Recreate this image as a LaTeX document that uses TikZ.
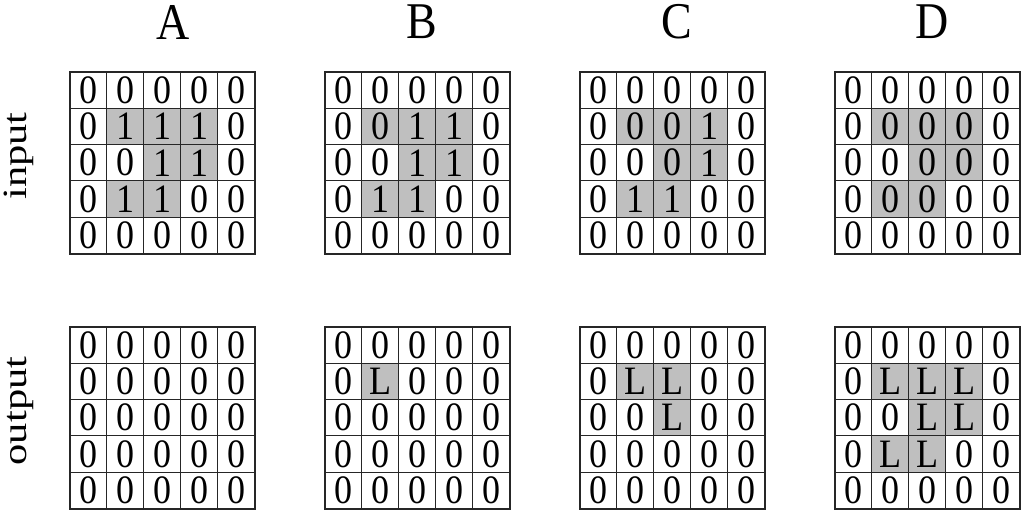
\documentclass[tikz,border=0pt]{standalone}
\usepackage{fontspec}
\setmainfont{Liberation Serif}
\newcommand\cw{36.9}
\newcommand\ch{36.3}
\newcommand\tx[1]{\scalebox{1.0}[1.12]{#1}}
\tikzset{
  cell/.style={draw=black!85, line width=1.1pt, minimum width=\cw pt, minimum height=\ch pt,
    inner sep=0pt, font=\fontsize{36}{36}\selectfont},
  gcell/.style={cell, fill=black!25},
  outer/.style={draw=black!85, line width=1.4pt},
  title/.style={font=\fontsize{46}{46}\selectfont, inner sep=0pt},
  side/.style={font=\fontsize{34}{34}\selectfont, inner sep=0pt, rotate=90, anchor=base}
}
\newcommand\mygrid[4]{%
  \foreach \v/\st [count=\i from 0] in {#4}{%
    \pgfmathtruncatemacro\rr{\i/5}%
    \pgfmathtruncatemacro\cc{mod(\i,5)}%
    \node[\st] (#1-\rr-\cc) at ({#2+(\cc+0.5)*\cw},{#3+(\rr+0.5)*\ch}) {\raisebox{-1.2pt}{\tx{\v}}};
  }
  \draw[outer] (#1-0-0.north west) rectangle (#1-4-4.south east);
}
\begin{document}
\begin{tikzpicture}[x=1pt,y=-1pt]
\fill[white] (0,0) rectangle (1021,514);
\useasboundingbox (0,0) rectangle (1021,514);
\node[title] (tA) at (173,22) {\tx{A}};
\node[title] (tB) at (422,22) {\tx{B}};
\node[title] (tC) at (677,22) {\tx{C}};
\node[title] (tD) at (932,22) {\tx{D}};
\node[side] (lin) at (26,156) {\scalebox{1.25}[1]{input}};
\node[side] (lout) at (26,411) {\scalebox{1.25}[1]{output}};
% inputs
\mygrid{iA}{70}{72}{0/cell,0/cell,0/cell,0/cell,0/cell,
 0/cell,1/gcell,1/gcell,1/gcell,0/cell,
 0/cell,0/cell,1/gcell,1/gcell,0/cell,
 0/cell,1/gcell,1/gcell,0/cell,0/cell,
 0/cell,0/cell,0/cell,0/cell,0/cell}
\mygrid{iB}{325}{72}{0/cell,0/cell,0/cell,0/cell,0/cell,
 0/cell,0/gcell,1/gcell,1/gcell,0/cell,
 0/cell,0/cell,1/gcell,1/gcell,0/cell,
 0/cell,1/gcell,1/gcell,0/cell,0/cell,
 0/cell,0/cell,0/cell,0/cell,0/cell}
\mygrid{iC}{580}{72}{0/cell,0/cell,0/cell,0/cell,0/cell,
 0/cell,0/gcell,0/gcell,1/gcell,0/cell,
 0/cell,0/cell,0/gcell,1/gcell,0/cell,
 0/cell,1/gcell,1/gcell,0/cell,0/cell,
 0/cell,0/cell,0/cell,0/cell,0/cell}
\mygrid{iD}{835}{72}{0/cell,0/cell,0/cell,0/cell,0/cell,
 0/cell,0/gcell,0/gcell,0/gcell,0/cell,
 0/cell,0/cell,0/gcell,0/gcell,0/cell,
 0/cell,0/gcell,0/gcell,0/cell,0/cell,
 0/cell,0/cell,0/cell,0/cell,0/cell}
% outputs
\mygrid{oA}{70}{327}{0/cell,0/cell,0/cell,0/cell,0/cell,
 0/cell,0/cell,0/cell,0/cell,0/cell,
 0/cell,0/cell,0/cell,0/cell,0/cell,
 0/cell,0/cell,0/cell,0/cell,0/cell,
 0/cell,0/cell,0/cell,0/cell,0/cell}
\mygrid{oB}{325}{327}{0/cell,0/cell,0/cell,0/cell,0/cell,
 0/cell,L/gcell,0/cell,0/cell,0/cell,
 0/cell,0/cell,0/cell,0/cell,0/cell,
 0/cell,0/cell,0/cell,0/cell,0/cell,
 0/cell,0/cell,0/cell,0/cell,0/cell}
\mygrid{oC}{580}{327}{0/cell,0/cell,0/cell,0/cell,0/cell,
 0/cell,L/gcell,L/gcell,0/cell,0/cell,
 0/cell,0/cell,L/gcell,0/cell,0/cell,
 0/cell,0/cell,0/cell,0/cell,0/cell,
 0/cell,0/cell,0/cell,0/cell,0/cell}
\mygrid{oD}{835}{327}{0/cell,0/cell,0/cell,0/cell,0/cell,
 0/cell,L/gcell,L/gcell,L/gcell,0/cell,
 0/cell,0/cell,L/gcell,L/gcell,0/cell,
 0/cell,L/gcell,L/gcell,0/cell,0/cell,
 0/cell,0/cell,0/cell,0/cell,0/cell}
\end{tikzpicture}
\end{document}
